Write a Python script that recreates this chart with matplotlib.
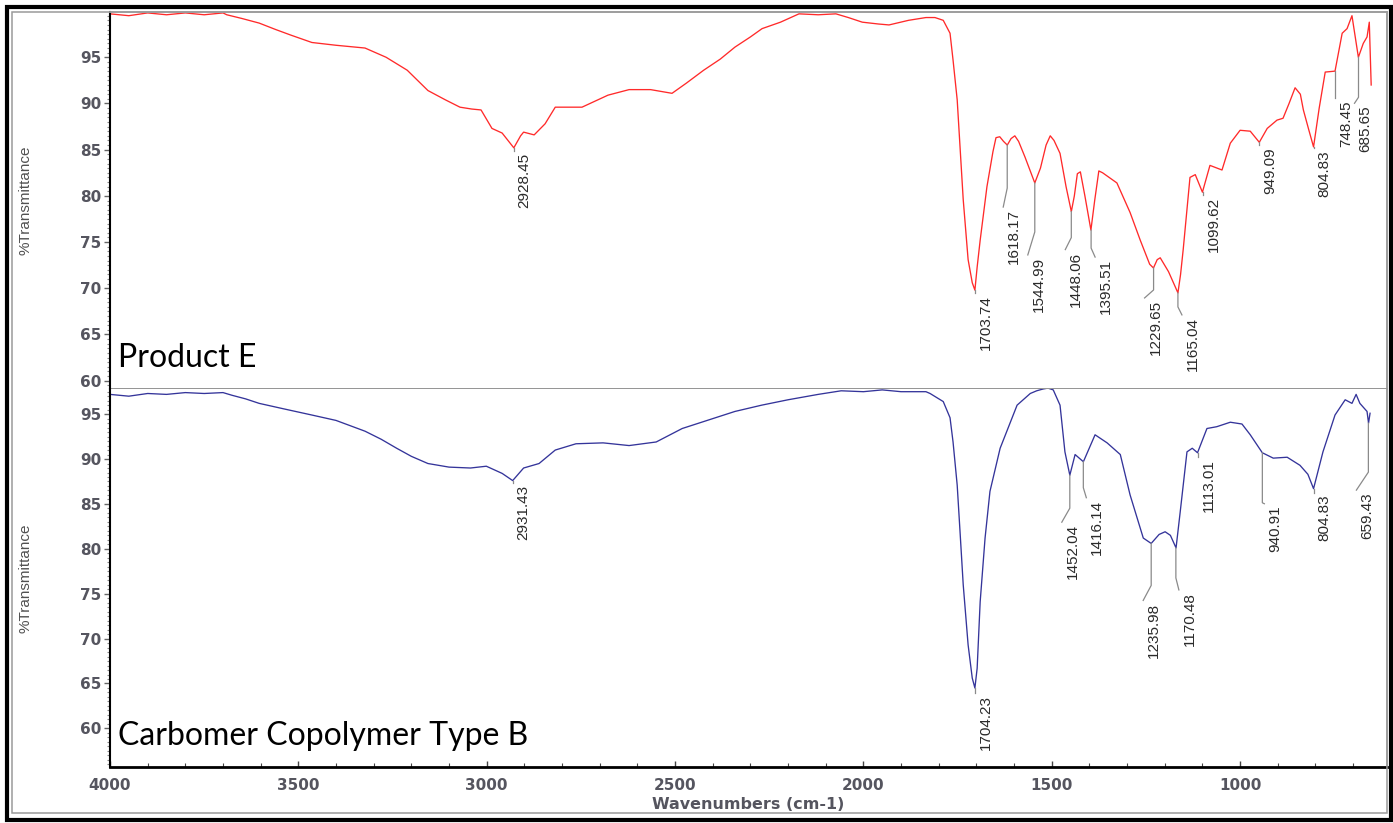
import matplotlib
matplotlib.use('Agg')
import matplotlib.pyplot as plt
from matplotlib.patches import Rectangle
from matplotlib.ticker import MultipleLocator

##### spectrum of Product E (red, top) #####
wn_e = [4000, 3950, 3900, 3850, 3800, 3750, 3700, 3690, 3650, 3604, 3560, 3520, 3464, 3400,
        3323, 3267, 3211, 3156, 3110, 3071, 3040, 3015, 2986, 2959, 2928, 2910, 2902, 2874,
        2845, 2818, 2780, 2747, 2710, 2678, 2622, 2565, 2508, 2470, 2424, 2380, 2341, 2300,
        2269, 2220, 2171, 2120, 2073, 2040, 2003, 1960, 1932, 1880, 1834, 1810, 1788, 1770,
        1762, 1751, 1743, 1735, 1722, 1711, 1704, 1698, 1690, 1672, 1656, 1648, 1638, 1628,
        1618, 1608, 1598, 1588, 1571, 1545, 1530, 1515, 1504, 1494, 1478, 1462, 1448, 1440,
        1432, 1424, 1412, 1396, 1386, 1375, 1365, 1327, 1292, 1265, 1240, 1230, 1220, 1212,
        1190, 1165, 1158, 1151, 1133, 1119, 1100, 1080, 1048, 1026, 1000, 973, 949, 928, 902,
        886, 870, 854, 840, 832, 818, 805, 790, 774, 748, 729, 716, 703, 686, 673, 663, 657,
        655, 652]
t_e = [99.7, 99.5, 99.8, 99.6, 99.8, 99.6, 99.8, 99.6, 99.2, 98.7, 98.0, 97.4, 96.6, 96.3,
       96.0, 95.0, 93.6, 91.4, 90.4, 89.6, 89.4, 89.3, 87.3, 86.8, 85.2, 86.5, 86.9, 86.6,
       87.8, 89.6, 89.6, 89.6, 90.3, 90.9, 91.5, 91.5, 91.1, 92.2, 93.6, 94.8, 96.1, 97.2,
       98.1, 98.8, 99.7, 99.6, 99.7, 99.3, 98.8, 98.6, 98.5, 99.0, 99.3, 99.3, 99.0, 97.6,
       94.7, 90.4, 85.0, 79.6, 73.1, 70.6, 69.8, 72.3, 75.2, 81.0, 84.8, 86.3, 86.4, 85.9,
       85.5, 86.2, 86.5, 85.9, 84.2, 81.4, 83.0, 85.5, 86.5, 86.0, 84.6, 81.0, 78.3, 80.0,
       82.4, 82.6, 80.0, 76.3, 79.5, 82.7, 82.5, 81.4, 78.2, 75.2, 72.6, 72.2, 73.1, 73.3,
       71.8, 69.5, 71.5, 74.2, 82.0, 82.3, 80.4, 83.3, 82.8, 85.7, 87.1, 87.0, 85.8, 87.3,
       88.2, 88.4, 90.0, 91.7, 91.0, 89.3, 87.2, 85.3, 89.5, 93.4, 93.5, 97.6, 98.1, 99.5,
       95.0, 96.5, 97.2, 98.8, 96.1, 92.0]

##### spectrum of Carbomer Copolymer Type B (blue, bottom) #####
wn_c = [4000, 3950, 3900, 3850, 3800, 3750, 3700, 3676, 3640, 3604, 3540, 3464, 3400, 3323,
        3280, 3239, 3200, 3156, 3100, 3043, 3001, 2959, 2931, 2902, 2861, 2818, 2763, 2691,
        2622, 2550, 2481, 2400, 2341, 2270, 2200, 2120, 2059, 2000, 1950, 1900, 1834, 1823,
        1788, 1770, 1762, 1751, 1743, 1735, 1722, 1711, 1704, 1698, 1690, 1677, 1664, 1637,
        1592, 1557, 1540, 1523, 1510, 1496, 1478, 1465, 1452, 1438, 1416, 1385, 1353, 1318,
        1292, 1257, 1236, 1215, 1199, 1185, 1170, 1159, 1141, 1127, 1113, 1088, 1062, 1026,
        995, 973, 941, 912, 875, 841, 820, 805, 780, 748, 721, 703, 692, 682, 663, 659, 655]
t_c = [97.2, 97.0, 97.3, 97.2, 97.4, 97.3, 97.4, 97.1, 96.7, 96.2, 95.6, 94.9, 94.3, 93.1,
       92.2, 91.2, 90.3, 89.5, 89.1, 89.0, 89.2, 88.4, 87.6, 89.0, 89.5, 91.0, 91.7, 91.8,
       91.5, 91.9, 93.4, 94.5, 95.3, 96.0, 96.6, 97.2, 97.6, 97.5, 97.7, 97.5, 97.5, 97.3,
       96.4, 94.6, 91.9, 87.1, 81.6, 76.0, 69.3, 65.6, 64.5, 66.7, 74.1, 81.2, 86.4, 91.2,
       96.0, 97.3, 97.6, 97.8, 97.9, 97.7, 96.0, 90.8, 88.2, 90.5, 89.7, 92.7, 91.8, 90.5,
       86.0, 81.2, 80.6, 81.6, 81.9, 81.5, 80.1, 84.1, 90.8, 91.2, 90.7, 93.4, 93.6, 94.1,
       93.9, 92.7, 90.7, 90.1, 90.2, 89.3, 88.3, 86.7, 90.8, 94.9, 96.6, 96.2, 97.2, 96.2,
       95.3, 94.0, 95.1]

##### peak labels #####
peaks_e = [2928.45, 1703.74, 1618.17, 1544.99, 1448.06, 1395.51, 1229.65, 1165.04,
           1099.62, 949.09, 804.83, 748.45, 685.65]
peak_t_e = [85.2, 69.8, 85.5, 81.4, 78.3, 76.3, 72.2, 69.5, 80.4, 85.8, 85.3, 93.5, 95.0]
peaks_c = [2931.43, 1704.23, 1452.04, 1416.14, 1235.98, 1170.48, 1113.01, 940.91,
           804.83, 659.43]
peak_t_c = [87.6, 64.5, 88.2, 89.7, 80.6, 80.1, 90.7, 90.7, 86.7, 94.0]

# leader line layout in pixels: (knee drop, end dx, end drop)
leader_e = [(0, 0, 3), (0, 0, 3), (43, -4, 62), (49, -7, 72), (26, -6, 38), (18, 4, 27),
            (22, -9, 30), (14, 4, 22), (0, 0, 3), (0, 0, 3), (0, 0, 1), (27, 0, 27),
            (40, -4, 46)]
leader_c = [(0, 0, 2), (0, 0, 5), (33, -8, 47), (26, 3, 36), (42, -8, 57), (30, 3, 42),
            (0, 0, 4), (50, 2, 51), (0, 0, 4), (49, -12, 67)]

W, H = 1393, 823
fig = plt.figure(figsize=(W / 100, H / 100), dpi=100)

ax1 = fig.add_axes([110 / W, 1 - 389 / H, 1277 / W, 377 / H])
ax2 = fig.add_axes([110 / W, 1 - 767 / H, 1277 / W, 378 / H])

ax1.plot(wn_e, t_e, color='#ff2a2a', lw=0.95)
ax2.plot(wn_c, t_c, color='#34349a', lw=0.95)

ax1.set_ylim(59.1, 99.9)
ax2.set_ylim(55.7, 97.8)

tick_color = '#55555f'
for ax in (ax1, ax2):
    ax.set_xlim(4000, 610)
    ax.set_yticks(range(60, 100, 5))
    ax.yaxis.set_minor_locator(MultipleLocator(0.5))
    ax.tick_params(axis='y', which='major', direction='out', length=4, width=1,
                   color='#666666', labelcolor=tick_color, labelsize=11, pad=2)
    ax.tick_params(axis='y', which='minor', direction='out', length=2.5, width=0.8,
                   color='#888888')
    for lab in ax.get_yticklabels():
        lab.set_fontweight('bold')
    for s in ('top', 'right'):
        ax.spines[s].set_color('#9a9a9a')
        ax.spines[s].set_linewidth(1.1)
    ax.spines['left'].set_color('black')
    ax.spines['left'].set_linewidth(1.5)
    ax.set_ylabel('%Transmittance', fontsize=11, color='#505050',
                  family='Liberation Sans')
    ax.yaxis.set_label_coords(-0.0603, 0.5)

# top panel has no x axis
ax1.tick_params(axis='x', which='both', bottom=False, labelbottom=False)
ax1.spines['bottom'].set_color('#777777')
ax1.spines['bottom'].set_linewidth(1.1)
ax2.spines['top'].set_visible(False)

ax2.xaxis.set_major_locator(MultipleLocator(500))
ax2.xaxis.set_minor_locator(MultipleLocator(100))
ax2.tick_params(axis='x', which='major', direction='in', length=4, width=1,
                color='#444444', labelcolor=tick_color, labelsize=11, pad=8)
ax2.tick_params(axis='x', which='minor', direction='in', length=3, width=0.8,
                color='#444444')
for lab in ax2.get_xticklabels():
    lab.set_fontweight('bold')
ax2.spines['bottom'].set_color('black')
ax2.spines['bottom'].set_linewidth(2)
ax2.set_xlabel('Wavenumbers (cm-1)', fontsize=11.5, color=tick_color,
               fontweight='bold', labelpad=3)


def label_peaks(ax, peaks, peak_t, leaders):
    x0, x1 = ax.get_xlim()
    y0, y1 = ax.get_ylim()
    wpp = (x0 - x1) / ax.bbox.width
    tpp = (y1 - y0) / ax.bbox.height
    for wn, t, (kdy, edx, edy) in zip(peaks, peak_t, leaders):
        knee_t = t - kdy * tpp
        end_wn = wn - edx * wpp
        end_t = t - edy * tpp
        ax.plot([wn, wn, end_wn], [t, knee_t, end_t], color='#8a8a8a', lw=0.9)
        ax.text(end_wn - 4 * wpp, end_t - 2 * tpp, '%.2f' % wn, rotation=90,
                ha='left', va='top', fontsize=11, color='#2a2a2a',
                family='Liberation Sans')


label_peaks(ax1, peaks_e, peak_t_e, leader_e)
label_peaks(ax2, peaks_c, peak_t_c, leader_c)

ax1.text(0.006, 0.058, 'Product E', transform=ax1.transAxes, fontsize=23,
         family='Lato', va='baseline', ha='left')
ax2.text(0.006, 0.058, 'Carbomer Copolymer Type B', transform=ax2.transAxes,
         fontsize=23, family='Lato', va='baseline', ha='left')

# frames round the picture
fig.patches.append(Rectangle((12 / W, 1 - 813 / H), 1375 / W, 801 / H, fill=False,
                             edgecolor='#9a9a9a', lw=1.1, transform=fig.transFigure))
fig.patches.append(Rectangle((7 / W, 1 - 820 / H), 1384 / W, 813 / H, fill=False,
                             edgecolor='black', lw=3, transform=fig.transFigure))

fig.savefig('out.png', dpi=100)
